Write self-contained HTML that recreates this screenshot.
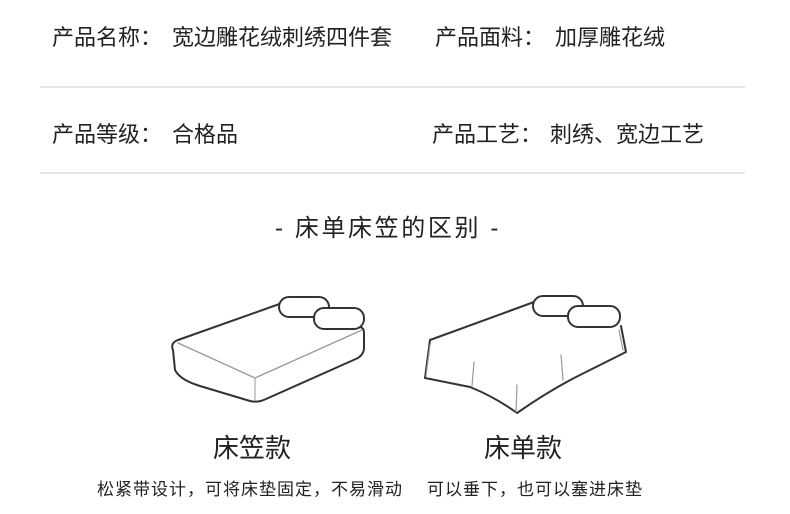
<!DOCTYPE html>
<html><head><meta charset="utf-8"><style>
body{margin:0;width:790px;height:514px;background:#fff;position:relative;overflow:hidden;font-family:"Liberation Sans","Noto Sans CJK SC",sans-serif;color:#222}
.t{position:absolute;white-space:nowrap;line-height:1}
.l{position:absolute;left:40px;width:705px;height:2px;background:#e6e6e6}
</style></head><body>
<div class="t" style="left:52px;top:27px;font-size:22px">产品名称：</div>
<div class="t" style="left:172px;top:27px;font-size:22px">宽边雕花绒刺绣四件套</div>
<div class="t" style="left:435px;top:27px;font-size:22px">产品面料：</div>
<div class="t" style="left:555px;top:27px;font-size:22px">加厚雕花绒</div>
<div class="l" style="top:86px"></div>
<div class="t" style="left:52px;top:124px;font-size:22px">产品等级：</div>
<div class="t" style="left:172px;top:124px;font-size:22px">合格品</div>
<div class="t" style="left:432px;top:124px;font-size:22px">产品工艺：</div>
<div class="t" style="left:550px;top:124px;font-size:22px">刺绣、宽边工艺</div>
<div class="l" style="top:172px"></div>
<div class="t" style="left:275px;top:217px;font-size:24px;letter-spacing:2.6px">- 床单床笠的区别 -</div>
<svg style="position:absolute;left:0;top:0" width="790" height="514" fill="none" stroke="#333" stroke-width="2" stroke-linejoin="round" stroke-linecap="round">
<path d="M178 340 Q170 343 173 350 L175 370 Q180 380 200 386 L250 401 Q258 403 266 399 L358 358 Q364 354 364 348 L364 333 Q364 326 357 327"/>
<path d="M178 340 L285 302"/>
<path d="M178 343 L255 378 L362 330" stroke="#999" stroke-width="1.3"/>
<path d="M255 378 L255 400" stroke="#999" stroke-width="1"/>
<rect x="279" y="297" width="50" height="20" rx="10" fill="#fff"/>
<rect x="314" y="308" width="50" height="21" rx="10" fill="#fff"/>
<path d="M430 340 L534 302"/>
<path d="M430 340 L425 378 Q440 381 470 387 Q495 397 517 413 Q550 390 580 375 L626 352 L621 326"/>
<path d="M430 345 L426 376 M474 362 L472 386 M517 385 L516 412 M561 355 L563 380 M619 330 L623 350" stroke="#999" stroke-width="1.2"/>
<rect x="533" y="296" width="50" height="20" rx="10" fill="#fff"/>
<rect x="568" y="306" width="52" height="21" rx="10" fill="#fff"/>
</svg>
<div class="t" style="left:213px;top:435px;font-size:26px">床笠款</div>
<div class="t" style="left:484px;top:435px;font-size:26px">床单款</div>
<div class="t" style="left:97px;top:481px;font-size:17px;letter-spacing:1px">松紧带设计，可将床垫固定，不易滑动</div>
<div class="t" style="left:427px;top:481px;font-size:17px;letter-spacing:1px">可以垂下，也可以塞进床垫</div>
</body></html>
